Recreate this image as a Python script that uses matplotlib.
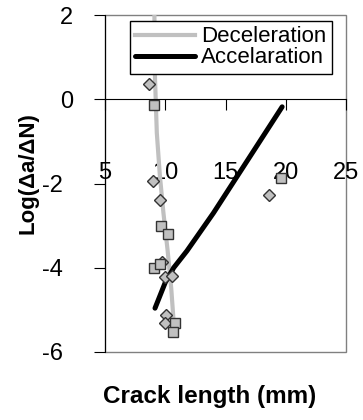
import matplotlib
matplotlib.use("Agg")
import matplotlib.pyplot as plt
from matplotlib.patches import Rectangle
from matplotlib.transforms import ScaledTranslation

plt.rcParams['font.family'] = ['Liberation Sans', 'DejaVu Sans']
plt.rcParams['axes.unicode_minus'] = False

# fitted curves
decel_x = [9.1, 9.15, 9.3, 9.55, 9.85, 10.2, 10.5, 10.7]
decel_y = [2.0, 0.5, -0.8, -1.8, -2.7, -3.6, -4.5, -5.3]
accel_x = [9.15, 10.0, 10.7, 11.8, 14.0, 19.7]
accel_y = [-4.96, -4.35, -4.0, -3.6, -2.7, -0.18]

# measured points
diamond_x = [8.65, 8.96, 18.6, 9.56, 9.7, 10.0, 10.6, 10.1, 9.98]
diamond_y = [0.37, -1.95, -2.28, -2.40, -3.87, -4.22, -4.19, -5.12, -5.30]
square_x = [9.07, 19.6, 9.62, 10.2, 9.07, 9.6, 10.8, 10.67]
square_y = [-0.14, -1.88, -3.0, -3.2, -4.0, -3.9, -5.32, -5.53]

xticks = [5, 10, 15, 20, 25]
yticks = [2, 0, -2, -4, -6]

fig = plt.figure(figsize=(3.63, 4.2), dpi=100)
ax = fig.add_axes([105 / 363, 1 - 352 / 420, 241 / 363, 337 / 420])

ax.plot(decel_x, decel_y, color="#c0c0c0", lw=3, label="Deceleration", zorder=2)
ax.plot(accel_x, accel_y, color="black", lw=3.6, label="Accelaration", zorder=2,
        solid_capstyle="round")
ax.plot(diamond_x, diamond_y, "D", ms=6.5, mfc="#c0c0c0", mec="#333333", mew=1, zorder=3)
ax.plot(square_x, square_y, "s", ms=6.5, mfc="#c0c0c0", mec="#333333", mew=1, zorder=3)

ax.set_xlim(5, 25)
ax.set_ylim(-6, 2)
ax.set_xticks(xticks)
ax.set_yticks(yticks)

ax.spines["bottom"].set_position(("data", 0))
ax.spines["top"].set_visible(False)
ax.spines["right"].set_visible(False)
ax.add_patch(Rectangle((0, 0), 1, 1, transform=ax.transAxes, fill=False,
                       edgecolor="#808080", lw=1, zorder=0, clip_on=False))

ax.tick_params(axis="x", direction="out", length=8, labelsize=17, pad=37)
ax.tick_params(axis="y", direction="out", length=8, labelsize=17, pad=15)

fig.canvas.draw()
for lab in ax.get_yticklabels():
    if lab.get_text().startswith("-"):
        lab.set_transform(lab.get_transform() + ScaledTranslation(-0.10, 0, fig.dpi_scale_trans))

ax.set_ylabel("Log(\u0394a/\u0394N)", fontsize=16, fontweight="bold")
ax.yaxis.set_label_coords(-0.276, 0.53)
fig.text(210 / 363, 1 - 396 / 420, "Crack length (mm)", fontsize=17.5,
         fontweight="bold", ha="center", va="center")

ax.legend(loc="upper right", bbox_to_anchor=(0.94, 0.983), borderaxespad=0,
          fontsize=16, fancybox=False, edgecolor="black", framealpha=1,
          handlelength=2.7, handletextpad=0.25, labelspacing=0, borderpad=0.25)

fig.savefig("out.png", dpi=100)
